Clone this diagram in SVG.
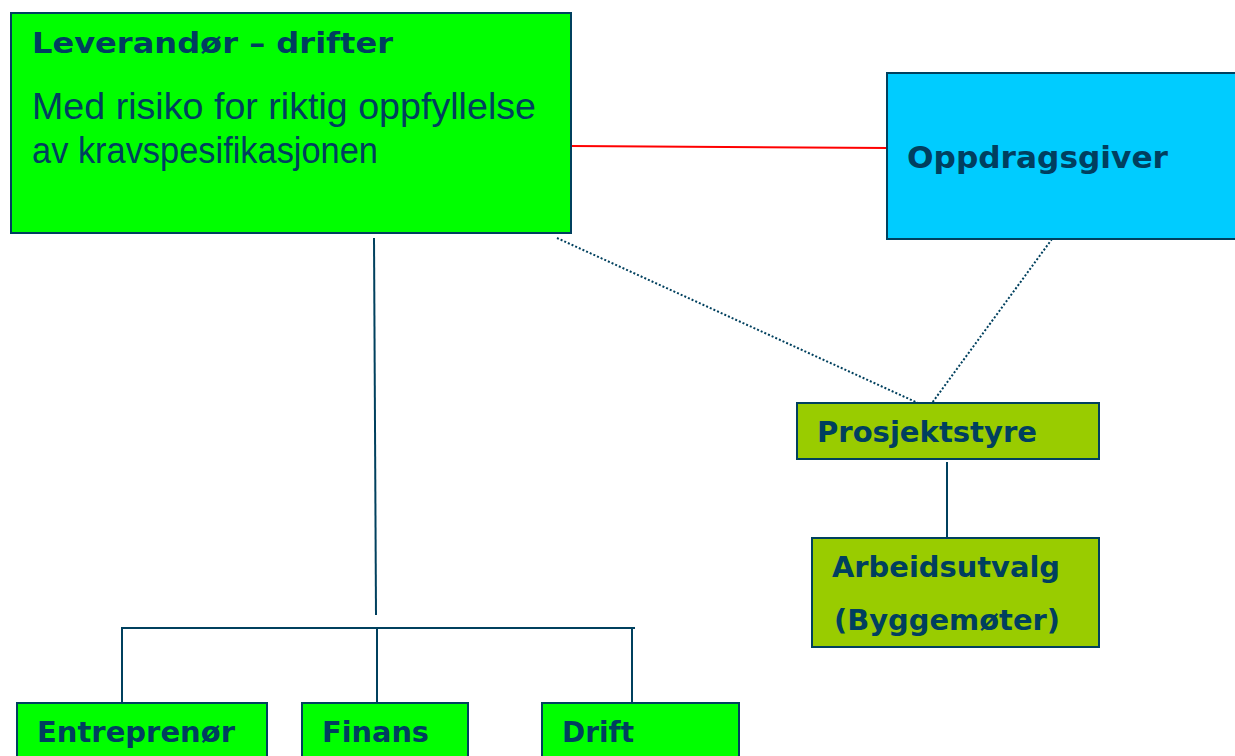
<svg xmlns="http://www.w3.org/2000/svg" width="1235" height="756" viewBox="0 0 1235 756">
<style>
.box{stroke:#00405e;stroke-width:2}
.g1{fill:#00ff00}
.g2{fill:#99cc00}
.bl{fill:#00ccff}
.t{font-family:"DejaVu Sans",Verdana,sans-serif;font-weight:bold;fill:#003f5f}
.s{font-family:"Liberation Sans",Arial,sans-serif;fill:#003f5f}
.ln{stroke:#00405e;stroke-width:2;fill:none}
.dot{stroke:#00405e;stroke-width:2;stroke-dasharray:2 2;fill:none}
</style>
<rect width="1235" height="756" fill="#ffffff"/>
<g id="connectors">
<line x1="571" y1="146" x2="889" y2="148" stroke="#ff0000" stroke-width="2"/>
<line class="dot" x1="557" y1="238" x2="918" y2="403"/>
<line class="dot" x1="1052" y1="239" x2="932" y2="403"/>
<line class="ln" x1="947" y1="462" x2="947" y2="538"/>
<line class="ln" x1="374" y1="238" x2="376" y2="615"/>
<line class="ln" x1="121" y1="628" x2="635" y2="628"/>
<line class="ln" x1="122" y1="628" x2="122" y2="703"/>
<line class="ln" x1="377" y1="628" x2="377" y2="703"/>
<line class="ln" x1="632" y1="628" x2="632" y2="703"/>
</g>
<g id="leverandor">
<rect class="box g1" x="11" y="13" width="560" height="220"/>
<text class="t" x="32" y="53" font-size="29" textLength="361" lengthAdjust="spacingAndGlyphs">Leverandør – drifter</text>
<text class="s" x="32" y="119" font-size="37" textLength="504" lengthAdjust="spacingAndGlyphs">Med risiko for riktig oppfyllelse</text>
<text class="s" x="32" y="163" font-size="37" textLength="346" lengthAdjust="spacingAndGlyphs">av kravspesifikasjonen</text>
</g>
<g id="oppdragsgiver">
<rect class="box bl" x="887" y="73" width="352" height="166"/>
<text class="t" x="907" y="168" font-size="30" textLength="261" lengthAdjust="spacingAndGlyphs">Oppdragsgiver</text>
</g>
<g id="prosjektstyre">
<rect class="box g2" x="797" y="403" width="302" height="56"/>
<text class="t" x="817" y="442" font-size="28" textLength="220" lengthAdjust="spacingAndGlyphs">Prosjektstyre</text>
</g>
<g id="arbeidsutvalg">
<rect class="box g2" x="812" y="538" width="287" height="109"/>
<text class="t" x="832" y="577" font-size="28" textLength="228" lengthAdjust="spacingAndGlyphs">Arbeidsutvalg</text>
<text class="t" x="834" y="630" font-size="28" textLength="226" lengthAdjust="spacingAndGlyphs">(Byggemøter)</text>
</g>
<g id="entreprenor">
<rect class="box g1" x="17" y="703" width="250" height="60"/>
<text class="t" x="37" y="742" font-size="28" textLength="198" lengthAdjust="spacingAndGlyphs">Entreprenør</text>
</g>
<g id="finans">
<rect class="box g1" x="302" y="703" width="166" height="60"/>
<text class="t" x="322" y="742" font-size="28" textLength="107" lengthAdjust="spacingAndGlyphs">Finans</text>
</g>
<g id="drift">
<rect class="box g1" x="542" y="703" width="197" height="60"/>
<text class="t" x="562" y="742" font-size="28" textLength="72" lengthAdjust="spacingAndGlyphs">Drift</text>
</g>
</svg>
